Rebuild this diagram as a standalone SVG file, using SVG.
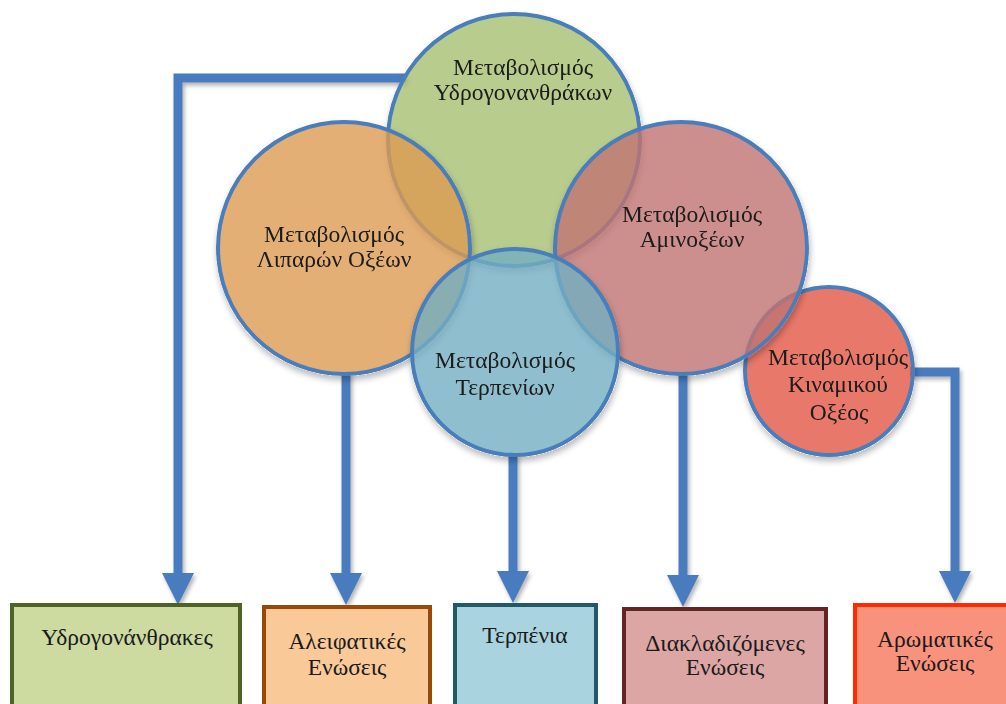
<svg xmlns="http://www.w3.org/2000/svg" width="1006" height="704" viewBox="0 0 1006 704">
  <defs>
    <style>
      .lbl { font-family: "Liberation Serif", "Times New Roman", serif; font-size: 23.5px; fill: #1a1a1a; text-anchor: middle; }
      .ring { stroke: #4a7ebb; stroke-width: 4; fill-opacity: 0.8; }
      .link { fill: none; stroke: #4a7bbf; stroke-width: 9; stroke-linejoin: miter; marker-end: url(#head); }
      .box { stroke-width: 4; }
    </style>
    <marker id="head" markerUnits="userSpaceOnUse" viewBox="0 0 32 32" markerWidth="32" markerHeight="32" refX="0" refY="16" orient="auto">
      <path d="M0,0 L32,16 L0,32 Z" fill="#4a7bbf"/>
    </marker>
    <!-- soft shadow for opaque strokes -->
    <filter id="lineShadow" x="-10%" y="-10%" width="130%" height="130%">
      <feDropShadow dx="2" dy="3" stdDeviation="2" flood-color="#000" flood-opacity="0.3"/>
    </filter>
    <!-- shadow that stays outside a translucent disc -->
    <filter id="discShadow" x="-10%" y="-10%" width="130%" height="130%">
      <feGaussianBlur in="SourceAlpha" stdDeviation="3" result="blur"/>
      <feOffset in="blur" dx="1" dy="4" result="off"/>
      <feColorMatrix in="SourceAlpha" type="matrix" values="0 0 0 0 0  0 0 0 0 0  0 0 0 0 0  0 0 0 20 0" result="solid"/>
      <feComposite in="off" in2="solid" operator="out" result="outer"/>
      <feFlood flood-color="#000" flood-opacity="0.3"/>
      <feComposite in2="outer" operator="in" result="shadow"/>
      <feMerge>
        <feMergeNode in="shadow"/>
        <feMergeNode in="SourceGraphic"/>
      </feMerge>
    </filter>
  </defs>

  <rect width="1006" height="704" fill="#ffffff"/>

  <!-- connectors -->
  <g id="connectors" filter="url(#lineShadow)">
    <polyline class="link" points="406,78 178,78 178,573"/>
    <polyline class="link" points="346,372 346,573"/>
    <polyline class="link" points="513,454 513,571"/>
    <polyline class="link" points="683,372 683,575"/>
    <polyline class="link" points="910,372 955,372 955,571"/>
  </g>

  <!-- metabolic pathways -->
  <g id="hydrocarbon-metabolism" filter="url(#discShadow)">
    <circle class="ring" cx="514" cy="140" r="126" fill="#a6bf6f"/>
    <text class="lbl" x="523" y="75">Μεταβολισμός</text>
    <text class="lbl" x="523" y="100">Υδρογονανθράκων</text>
  </g>
  <g id="cinnamic-acid-metabolism" filter="url(#discShadow)">
    <circle class="ring" cx="829" cy="371" r="84" fill="#e25643"/>
    <text class="lbl" x="838" y="365">Μεταβολισμός</text>
    <text class="lbl" x="838" y="392">Κιναμικού</text>
    <text class="lbl" x="839" y="420">Οξέος</text>
  </g>
  <g id="fatty-acid-metabolism" filter="url(#discShadow)">
    <circle class="ring" cx="344" cy="248" r="126" fill="#dc9b52"/>
    <text class="lbl" x="334" y="242">Μεταβολισμός</text>
    <text class="lbl" x="334" y="267">Λιπαρών Οξέων</text>
  </g>
  <g id="amino-acid-metabolism" filter="url(#discShadow)">
    <circle class="ring" cx="681" cy="248" r="126" fill="#c0736f"/>
    <text class="lbl" x="692" y="222">Μεταβολισμός</text>
    <text class="lbl" x="692" y="247">Αμινοξέων</text>
  </g>
  <g id="terpene-metabolism" filter="url(#discShadow)">
    <circle class="ring" cx="515" cy="352" r="103" fill="#73aec2"/>
    <text class="lbl" x="505" y="368">Μεταβολισμός</text>
    <text class="lbl" x="505" y="395">Τερπενίων</text>
  </g>

  <!-- product classes -->
  <g id="hydrocarbons">
    <rect class="box" x="12" y="605" width="228" height="120" fill="#cddba1" stroke="#4f6228"/>
    <text class="lbl" x="127" y="645">Υδρογονάνθρακες</text>
  </g>
  <g id="aliphatic-compounds">
    <rect class="box" x="264" y="607" width="166" height="120" fill="#f9c997" stroke="#984807"/>
    <text class="lbl" x="347" y="649">Αλειφατικές</text>
    <text class="lbl" x="347" y="675">Ενώσεις</text>
  </g>
  <g id="terpenes">
    <rect class="box" x="455" y="605" width="141" height="120" fill="#a9d3df" stroke="#215968"/>
    <text class="lbl" x="525" y="643">Τερπένια</text>
  </g>
  <g id="branched-compounds">
    <rect class="box" x="624" y="609" width="202" height="120" fill="#dca6a4" stroke="#632423"/>
    <text class="lbl" x="725" y="651">Διακλαδιζόμενες</text>
    <text class="lbl" x="725" y="675">Ενώσεις</text>
  </g>
  <g id="aromatic-compounds">
    <rect class="box" x="855" y="605" width="170" height="120" fill="#f9927d" stroke="#ff2a00"/>
    <text class="lbl" x="935" y="647">Αρωματικές</text>
    <text class="lbl" x="935" y="671">Ενώσεις</text>
  </g>
</svg>
